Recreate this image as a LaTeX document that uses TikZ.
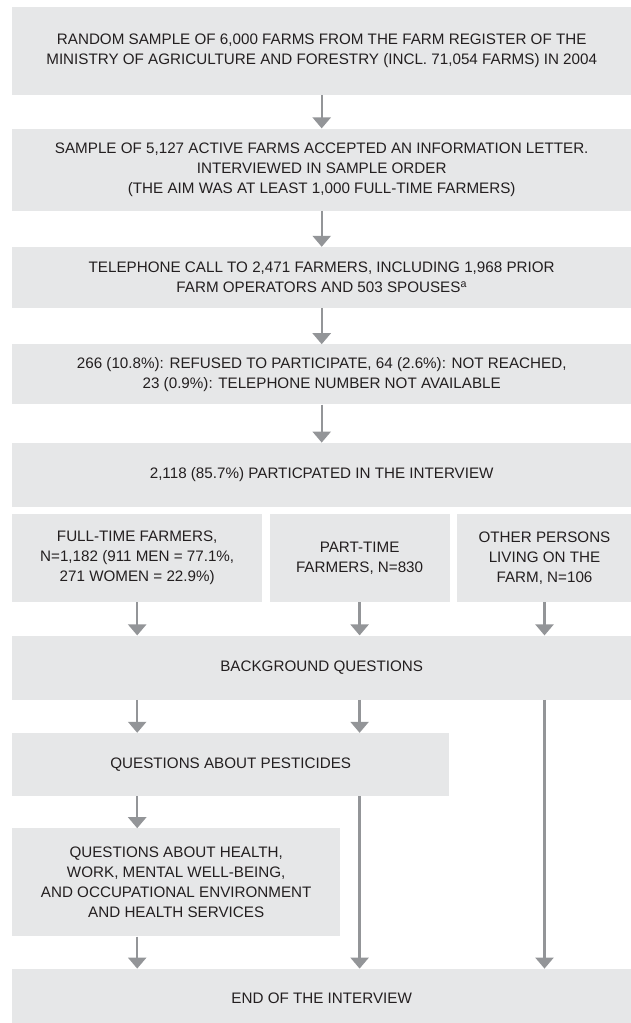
\documentclass[tikz,border=0pt]{standalone}
\usepackage{fontspec}
\setmainfont{Liberation Sans}
\usetikzlibrary{positioning,arrows.meta}
\definecolor{boxgray}{HTML}{E6E7E8}
\definecolor{arrowgray}{HTML}{939598}
\definecolor{inkgray}{HTML}{231F20}

\begin{document}
\begin{tikzpicture}[x=1pt, y=1pt,
    box/.style={fill=boxgray, text=inkgray, inner sep=0pt, align=center,
        font=\fontsize{15.2}{20}\selectfont},
    wide/.style={box, minimum width=619pt},
    flow/.style={draw=arrowgray, line width=2.4pt,
        -{Triangle[width=18pt,length=11pt]}}]
    \useasboundingbox (0,0) rectangle (631,-1023);

    \node[wide, minimum height=88pt, anchor=north west] (sample) at (12,-7)
        {RANDOM SAMPLE OF 6,000 FARMS FROM THE FARM REGISTER OF THE\\
         MINISTRY OF AGRICULTURE AND FORESTRY (INCL. 71,054 FARMS) IN 2004};
    \node[wide, minimum height=82pt] (letter) [below=33pt of sample]
        {SAMPLE OF 5,127 ACTIVE FARMS ACCEPTED AN INFORMATION LETTER.\\
         INTERVIEWED IN SAMPLE ORDER\\
         (THE AIM WAS AT LEAST 1,000 FULL-TIME FARMERS)};
    \node[wide, minimum height=61pt] (call) [below=36pt of letter]
        {TELEPHONE CALL TO 2,471 FARMERS, INCLUDING 1,968 PRIOR\\
         FARM OPERATORS AND 503 SPOUSES\textsuperscript{a}};
    \node[wide, minimum height=60pt] (lost) [below=36pt of call]
        {266 (10.8\%): REFUSED TO PARTICIPATE, 64 (2.6\%): NOT REACHED,\\
         23 (0.9\%): TELEPHONE NUMBER NOT AVAILABLE};
    \node[wide, minimum height=64pt] (joined) [below=38pt of lost]
        {2,118 (85.7\%) PARTICPATED IN THE INTERVIEW};

    \node[box, minimum width=250pt, minimum height=88pt] (full)
        [below=7pt of joined.south west, anchor=north west]
        {FULL-TIME FARMERS,\\ N=1,182 (911 MEN = 77.1\%,\\ 271 WOMEN = 22.9\%)};
    \node[box, minimum width=180pt, minimum height=88pt] (parttime) [right=7pt of full]
        {PART-TIME\\ FARMERS, N=830};
    \node[box, minimum width=175pt, minimum height=88pt] (other) [right=7pt of parttime]
        {OTHER PERSONS\\ LIVING ON THE\\ FARM, N=106};

    \node[wide, minimum height=64pt] (backq)
        [below=33pt of full.south west, anchor=north west] {BACKGROUND QUESTIONS};
    \node[box, minimum width=437pt, minimum height=63pt] (pestq)
        [below=33pt of backq.south west, anchor=north west] {QUESTIONS ABOUT PESTICIDES};
    \node[box, minimum width=328pt, minimum height=108pt] (healthq)
        [below=32pt of pestq.south west, anchor=north west]
        {QUESTIONS ABOUT HEALTH,\\ WORK, MENTAL WELL-BEING,\\
         AND OCCUPATIONAL ENVIRONMENT\\ AND HEALTH SERVICES};
    \node[wide, minimum height=58pt] (finish)
        [below=32pt of healthq.south west, anchor=north west] {END OF THE INTERVIEW};

    \path[every edge/.style=flow]
    (sample) edge (letter)
    (letter) edge (call)
    (call) edge (lost)
    (lost) edge (joined)
    (full) edge (full |- backq.north)
    (parttime) edge (parttime |- backq.north)
    (other) edge (other |- backq.north)
    (backq.south -| full) edge (pestq.north -| full)
    (backq.south -| parttime) edge (pestq.north -| parttime)
    (backq.south -| other) edge (finish.north -| other)
    (pestq.south -| full) edge (healthq.north -| full)
    (pestq.south -| parttime) edge (finish.north -| parttime)
    (healthq.south -| full) edge (finish.north -| full);
\end{tikzpicture}
\end{document}
